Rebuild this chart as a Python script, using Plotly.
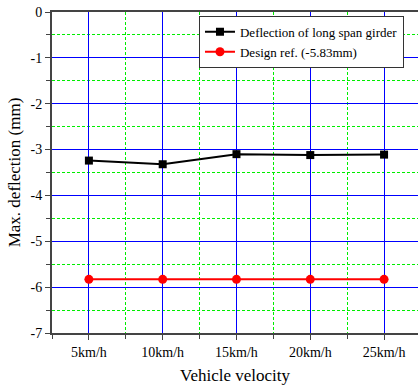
import plotly.graph_objects as go

# Vehicle speeds and measured maximum deflections
categories = ["5km/h", "10km/h", "15km/h", "20km/h", "25km/h"]
girder_deflection = [-3.24, -3.32, -3.10, -3.12, -3.11]
design_ref = [-5.83, -5.83, -5.83, -5.83, -5.83]
y_ticks = [0, -1, -2, -3, -4, -5, -6, -7]

xpos = list(range(len(categories)))
x_half = [i + 0.5 for i in range(-1, len(categories))]
y_half = [v - 0.5 for v in y_ticks[:-1]]
serif = "Liberation Serif, Times New Roman, serif"
green = "#00ee00"

fig = go.Figure()
fig.add_trace(go.Scatter(
    x=xpos, y=girder_deflection, mode="lines+markers",
    name="Deflection of long span girder",
    line=dict(color="black", width=2),
    marker=dict(symbol="square", size=8, color="black"),
))
fig.add_trace(go.Scatter(
    x=xpos, y=design_ref, mode="lines+markers",
    name="Design ref. (-5.83mm)",
    line=dict(color="red", width=2),
    marker=dict(symbol="circle", size=9, color="red"),
))

axis_common = dict(
    showgrid=True, gridcolor="blue", gridwidth=1,
    showline=True, linecolor="#444", linewidth=2,
    ticks="outside", ticklen=5, tickcolor="#444",
    zeroline=False,
    tickfont=dict(family=serif, size=14, color="black"),
)

fig.update_layout(
    width=418, height=391,
    margin=dict(l=52, r=0, t=12, b=58),
    plot_bgcolor="white", paper_bgcolor="white",
    font=dict(family=serif, size=13, color="black"),
    legend=dict(
        x=0.4016, y=0.988, xanchor="left", yanchor="top",
        bgcolor="white", bordercolor="#333", borderwidth=1,
        font=dict(family=serif, size=13, color="black"), tracegroupgap=0,
    ),
    xaxis=dict(
        axis_common,
        range=[-0.5, 4.46], tickmode="array", tickvals=xpos, ticktext=categories,
        mirror=True,
        minor=dict(tickmode="array", tickvals=x_half, showgrid=True,
                   gridcolor=green, griddash="3px,2px", gridwidth=1,
                   ticks="outside", ticklen=4, tickcolor="#444"),
        title=dict(text="Vehicle velocity",
                   font=dict(family=serif, size=17, color="black"), standoff=10),
    ),
    yaxis=dict(
        axis_common,
        range=[-7, 0], tickmode="array", tickvals=y_ticks,
        ticktext=[str(v) for v in y_ticks],
        minor=dict(tickmode="array", tickvals=y_half, showgrid=True,
                   gridcolor=green, griddash="3px,2px", gridwidth=1,
                   ticks="outside", ticklen=4, tickcolor="#444"),
        title=dict(text="Max. deflection (mm)",
                   font=dict(family=serif, size=17, color="black"), standoff=6),
    ),
)

fig.write_html("out.html")
